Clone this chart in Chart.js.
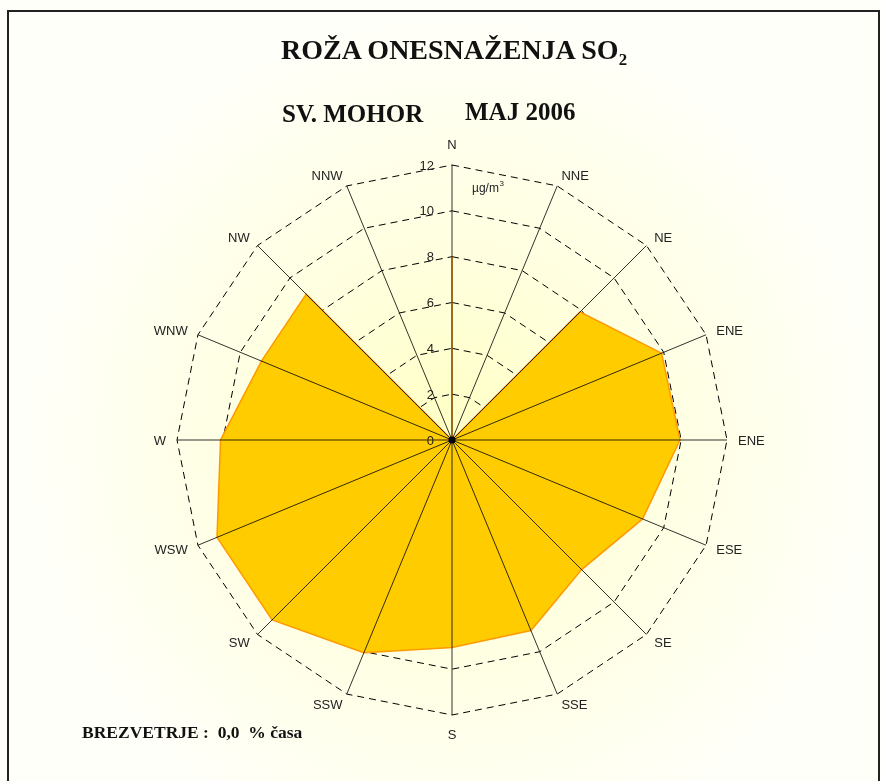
<!DOCTYPE html>
<html>
<head>
<meta charset="utf-8">
<script src="https://cdn.jsdelivr.net/npm/chart.js@4.4.1/dist/chart.umd.min.js"></script>
<style>
  html, body { margin: 0; padding: 0; background: #fff; }
  #wrap { position: relative; width: 881px; height: 781px; overflow: hidden; }
  #rose { position: absolute; left: 0; top: 0; }
  #frame { position: absolute; left: 7px; top: 10px; width: 873px; height: 800px; border: 2px solid #222; box-sizing: border-box; }
  .t { position: absolute; font-family: "Liberation Serif", "Times New Roman", serif; font-weight: bold; color: #111; line-height: 1; white-space: pre; }
  .t sub { font-size: 0.6em; vertical-align: -0.35em; line-height: 0; }
</style>
</head>
<body>
<div id="wrap">
  <canvas id="rose" width="881" height="781"></canvas>
  <div id="frame"></div>
  <div class="t" style="left:281px; top:36px; font-size:28px;">ROŽA ONESNAŽENJA SO<sub>2</sub></div>
  <div class="t" style="left:282px; top:101px; font-size:25px;">SV. MOHOR</div>
  <div class="t" style="left:465px; top:99px; font-size:25px;">MAJ 2006</div>
  <div class="t" style="left:82px; top:724px; font-size:17.5px;">BREZVETRJE :  0,0  % časa</div>
</div>
<script>
// wind directions, clockwise from north (the east spoke is labelled ENE in the original)
const directions = ['N', 'NNE', 'NE', 'ENE', 'ENE', 'ESE', 'SE', 'SSE', 'S', 'SSW', 'SW', 'WSW', 'W', 'WNW', 'NW', 'NNW'];
// mean SO2 concentration per direction, ug/m3
const so2Values = [8.0, 0, 7.9, 9.9, 9.95, 9.0, 8.0, 9.0, 9.05, 10.05, 11.1, 11.1, 10.1, 9.0, 9.0, 0];
const tickValues = [0, 2, 4, 6, 8, 10, 12];

const sansFont = '"Liberation Sans", Arial, sans-serif';

const backgroundPlugin = {
  id: 'roseBackground',
  beforeDraw(chart) {
    const r = chart.scales.r;
    const ctx = chart.ctx;
    const g = ctx.createRadialGradient(r.xCenter, r.yCenter, 0, r.xCenter, r.yCenter, 430);
    g.addColorStop(0, '#ffffc4');
    g.addColorStop(0.45, '#ffffe0');
    g.addColorStop(1, '#fffffa');
    ctx.save();
    ctx.fillStyle = g;
    ctx.fillRect(0, 0, chart.width, chart.height);
    ctx.restore();
  }
};

// spokes are drawn over the yellow rose
const spokePlugin = {
  id: 'roseSpokes',
  afterDatasetsDraw(chart) {
    const r = chart.scales.r;
    const ctx = chart.ctx;
    ctx.save();
    ctx.strokeStyle = 'rgba(0,0,0,0.8)';
    ctx.lineWidth = 1;
    ctx.beginPath();
    for (let i = 0; i < directions.length; i++) {
      const p = r.getPointPosition(i, r.drawingArea);
      ctx.moveTo(r.xCenter, r.yCenter);
      ctx.lineTo(p.x, p.y);
    }
    ctx.stroke();
    ctx.restore();
  }
};

const labelPlugin = {
  id: 'roseLabels',
  afterDraw(chart) {
    const r = chart.scales.r;
    const ctx = chart.ctx;
    const n = directions.length;
    ctx.save();

    // centre dot
    ctx.fillStyle = '#000';
    ctx.beginPath();
    ctx.arc(r.xCenter, r.yCenter, 3.5, 0, Math.PI * 2);
    ctx.fill();

    // direction labels
    ctx.fillStyle = '#222';
    ctx.font = '13px ' + sansFont;
    directions.forEach((d, i) => {
      const deg = i * 360 / n;
      if (deg === 0) {
        const p = r.getPointPosition(i, r.drawingArea + 13);
        ctx.textAlign = 'center';
        ctx.textBaseline = 'bottom';
        ctx.fillText(d, p.x, p.y);
      } else if (deg === 180) {
        const p = r.getPointPosition(i, r.drawingArea + 14);
        ctx.textAlign = 'center';
        ctx.textBaseline = 'top';
        ctx.fillText(d, p.x, p.y);
      } else {
        const p = r.getPointPosition(i, r.drawingArea + 11);
        ctx.textAlign = deg < 180 ? 'left' : 'right';
        ctx.textBaseline = 'middle';
        ctx.fillText(d, p.x, p.y + 1);
      }
    });

    // value ticks along the north spoke
    ctx.textAlign = 'right';
    ctx.textBaseline = 'middle';
    tickValues.forEach(v => {
      const y = r.yCenter - r.getDistanceFromCenterForValue(v);
      ctx.fillText(String(v), r.xCenter - 18, y + 1);
    });

    // unit
    ctx.font = '12px ' + sansFont;
    ctx.textAlign = 'left';
    const ux = r.xCenter + 20;
    const uy = r.yCenter - r.drawingArea + 24;
    ctx.fillText('µg/m', ux, uy);
    const w = ctx.measureText('µg/m').width;
    ctx.font = '8px ' + sansFont;
    ctx.fillText('3', ux + w + 0.5, uy - 5);
    ctx.restore();
  }
};

new Chart(document.getElementById('rose'), {
  type: 'radar',
  data: {
    labels: directions,
    datasets: [{
      data: so2Values,
      backgroundColor: '#ffcc00',
      borderColor: '#ff9900',
      borderWidth: 1.5,
      fill: true,
      pointRadius: 0
    }]
  },
  options: {
    responsive: false,
    animation: false,
    devicePixelRatio: 1,
    layout: { padding: { left: 177, right: 154, top: 165, bottom: 66 } },
    plugins: {
      legend: { display: false },
      tooltip: { enabled: false }
    },
    elements: { line: { tension: 0 } },
    scales: {
      r: {
        min: 0,
        max: 12,
        startAngle: 0,
        ticks: { display: false, stepSize: 2 },
        pointLabels: { display: false },
        angleLines: { display: false },
        grid: { color: '#000', lineWidth: 1 },
        border: { dash: [7, 5] }
      }
    }
  },
  plugins: [backgroundPlugin, spokePlugin, labelPlugin]
});
</script>
</body>
</html>
